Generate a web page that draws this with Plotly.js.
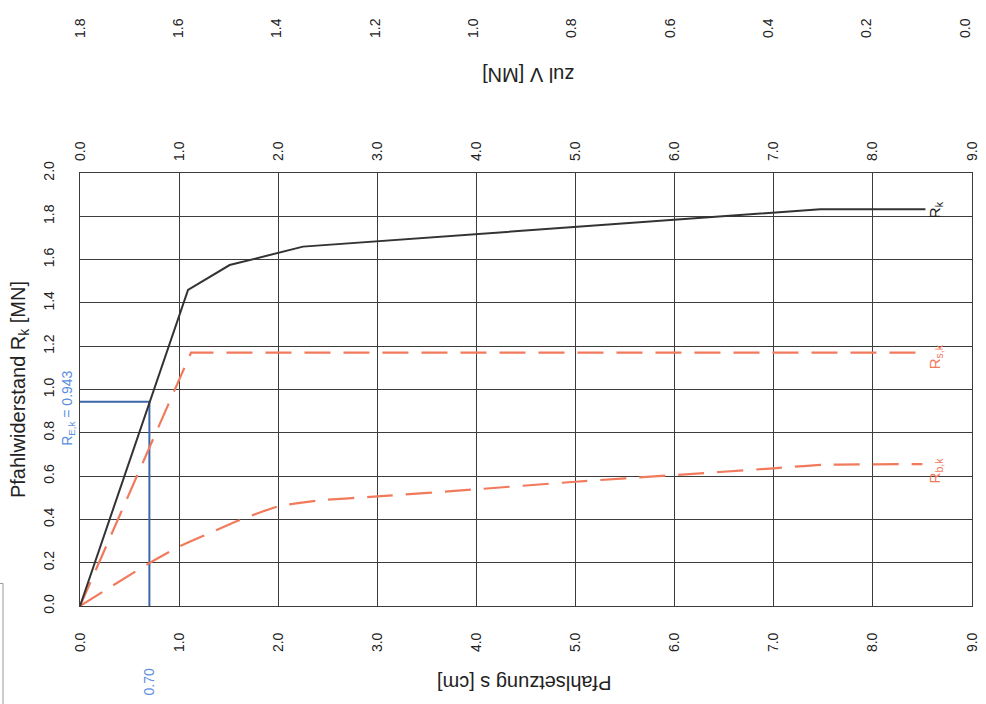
<!DOCTYPE html>
<html>
<head>
<meta charset="utf-8">
<script src="https://cdn.plot.ly/plotly-3.0.1.min.js"></script>
<style>html,body{margin:0;padding:0;background:#fff;}#chart{width:986px;height:704px;}</style>
</head>
<body>
<div id="chart"></div>
<script>
// Settlement s [cm] and resistances [MN]
const rkS = [0, 1.09, 1.51, 2.25, 7.47, 8.53];
const rkR = [0, 1.46, 1.575, 1.66, 1.833, 1.833];

const rsS = [0, 1.12, 8.5];
const rsR = [0, 1.17, 1.17];

const rbS = [0, 0.7, 1.0, 1.3, 1.6, 2.0, 2.4, 3.0, 4.0, 5.0, 6.0, 7.0, 7.5, 8.5];
const rbR = [0, 0.198, 0.274, 0.335, 0.395, 0.46, 0.487, 0.506, 0.539, 0.574, 0.605, 0.636, 0.652, 0.655];

const ekS = [0, 0.7, 0.7];
const ekR = [0.943, 0.943, 0];

const xTickVals = [0,1,2,3,4,5,6,7,8,9];
const xTickText = ['0.0','1.0','2.0','3.0','4.0','5.0','6.0','7.0','8.0','9.0'];
const yTickVals = [0,0.2,0.4,0.6,0.8,1.0,1.2,1.4,1.6,1.8,2.0];
const yTickText = ['0.0','0.2','0.4','0.6','0.8','1.0','1.2','1.4','1.6','1.8','2.0'];
const vTickVals = [0,0.2,0.4,0.6,0.8,1.0,1.2,1.4,1.6,1.8];
const vTickText = ['0.0','0.2','0.4','0.6','0.8','1.0','1.2','1.4','1.6','1.8'];

const FONT = 'Liberation Sans, Arial, sans-serif';
const GRID = '#3c3c3c';
const ORANGE = '#f27a5c';
const BLUE_LINE = '#3a68a8';
const BLUE_TXT = '#5b8ee0';

const traces = [
  {x: ekS, y: ekR, mode: 'lines', line: {color: BLUE_LINE, width: 2}, hoverinfo: 'skip'},
  {x: rsS, y: rsR, mode: 'lines', line: {color: ORANGE, width: 2.2, dash: '26px,13px'}},
  {x: rbS, y: rbR, mode: 'lines', line: {color: ORANGE, width: 2.2, dash: '26px,13px', shape: 'spline', smoothing: 0.6}},
  {x: rkS, y: rkR, mode: 'lines', line: {color: '#333333', width: 2}},
  {x: [0, 9], y: [null, null], xaxis: 'x2', mode: 'lines', hoverinfo: 'skip'},
  {x: [0, 1.8], y: [null, null], xaxis: 'x3', mode: 'lines', hoverinfo: 'skip'}
];

const tickFont = {family: FONT, size: 14, color: '#222'};

const layout = {
  width: 986, height: 704,
  margin: {l: 80, r: 14, t: 42, b: 98},
  paper_bgcolor: '#fff', plot_bgcolor: '#fff',
  showlegend: false,
  font: {family: FONT, color: '#222'},
  xaxis: {
    range: [0, 9], domain: [0, 1],
    tickvals: xTickVals, ticktext: xTickText, tickangle: -90,
    tickfont: tickFont, ticks: '', ticklabelstandoff: 20,
    showgrid: true, gridcolor: GRID, gridwidth: 1,
    showline: true, linecolor: GRID, linewidth: 1, mirror: true,
    zeroline: false, fixedrange: true
  },
  xaxis2: {
    range: [0, 9], overlaying: 'x', side: 'top', anchor: 'y',
    tickvals: xTickVals, ticktext: xTickText, tickangle: -90,
    tickfont: tickFont, ticks: '', ticklabelstandoff: 11,
    showgrid: false, showline: false, zeroline: false
  },
  xaxis3: {
    range: [1.8, -0.0142], overlaying: 'x', side: 'top', anchor: 'free', position: 1,
    tickvals: vTickVals, ticktext: vTickText, tickangle: -90,
    tickfont: tickFont, ticks: '', ticklabelstandoff: 4,
    showgrid: false, showline: false, zeroline: false
  },
  yaxis: {
    range: [0, 2.0], domain: [0, 0.7677],
    tickvals: yTickVals, ticktext: yTickText, tickangle: -90,
    tickfont: tickFont, ticks: '', ticklabelstandoff: 19,
    showgrid: true, gridcolor: GRID, gridwidth: 1,
    showline: true, linecolor: GRID, linewidth: 1, mirror: true,
    zeroline: false,
    title: {text: 'Pfahlwiderstand R<sub>k</sub> [MN]', font: {family: FONT, size: 20, color: '#222'}, standoff: 10}
  },
  annotations: [
    {xref: 'paper', yref: 'paper', x: 0.498, y: -0.1365, xanchor: 'center', yanchor: 'middle',
     text: 'Pfahlsetzung s [cm]', textangle: 180,
     showarrow: false, font: {family: FONT, size: 20, color: '#222'}},
    {xref: 'paper', yref: 'paper', x: 0.503, y: 0.9415, xanchor: 'center', yanchor: 'middle',
     text: 'zul V [MN]', textangle: 180,
     showarrow: false, font: {family: FONT, size: 20, color: '#222'}},
    {xref: 'x', yref: 'y', x: 8.63, y: 1.83, xanchor: 'center', yanchor: 'middle',
     text: 'R<sub>k</sub>', textangle: -90,
     showarrow: false, font: {family: FONT, size: 15, color: '#222'}},
    {xref: 'x', yref: 'y', x: 8.63, y: 1.15, xanchor: 'center', yanchor: 'middle',
     text: 'R<sub>s,k</sub>', textangle: -90,
     showarrow: false, font: {family: FONT, size: 15, color: ORANGE}},
    {xref: 'x', yref: 'y', x: 8.63, y: 0.628, xanchor: 'center', yanchor: 'middle',
     text: 'R<sub>b,k</sub>', textangle: -90,
     showarrow: false, font: {family: FONT, size: 15, color: ORANGE}},
    {xref: 'paper', yref: 'y', x: -0.0135, y: 0.915, xanchor: 'center', yanchor: 'middle',
     text: 'R<sub>E,k</sub> = 0.943', textangle: -90,
     showarrow: false, font: {family: FONT, size: 14, color: BLUE_TXT}},
    {xref: 'x', yref: 'paper', x: 0.7, y: -0.135, xanchor: 'center', yanchor: 'middle',
     text: '0.70', textangle: -90,
     showarrow: false, font: {family: FONT, size: 14, color: BLUE_TXT}}
  ],
  shapes: [
    {type: 'line', xref: 'paper', yref: 'paper', x0: -0.0863, x1: -0.0863, y0: 0.04, y1: -0.2, line: {color: '#999', width: 1}},
    {type: 'line', xref: 'paper', yref: 'paper', x0: -0.0897, x1: -0.0863, y0: 0.04, y1: 0.04, line: {color: '#999', width: 1}}
  ]
};

Plotly.newPlot('chart', traces, layout, {staticPlot: true, displayModeBar: false});
</script>
</body>
</html>
